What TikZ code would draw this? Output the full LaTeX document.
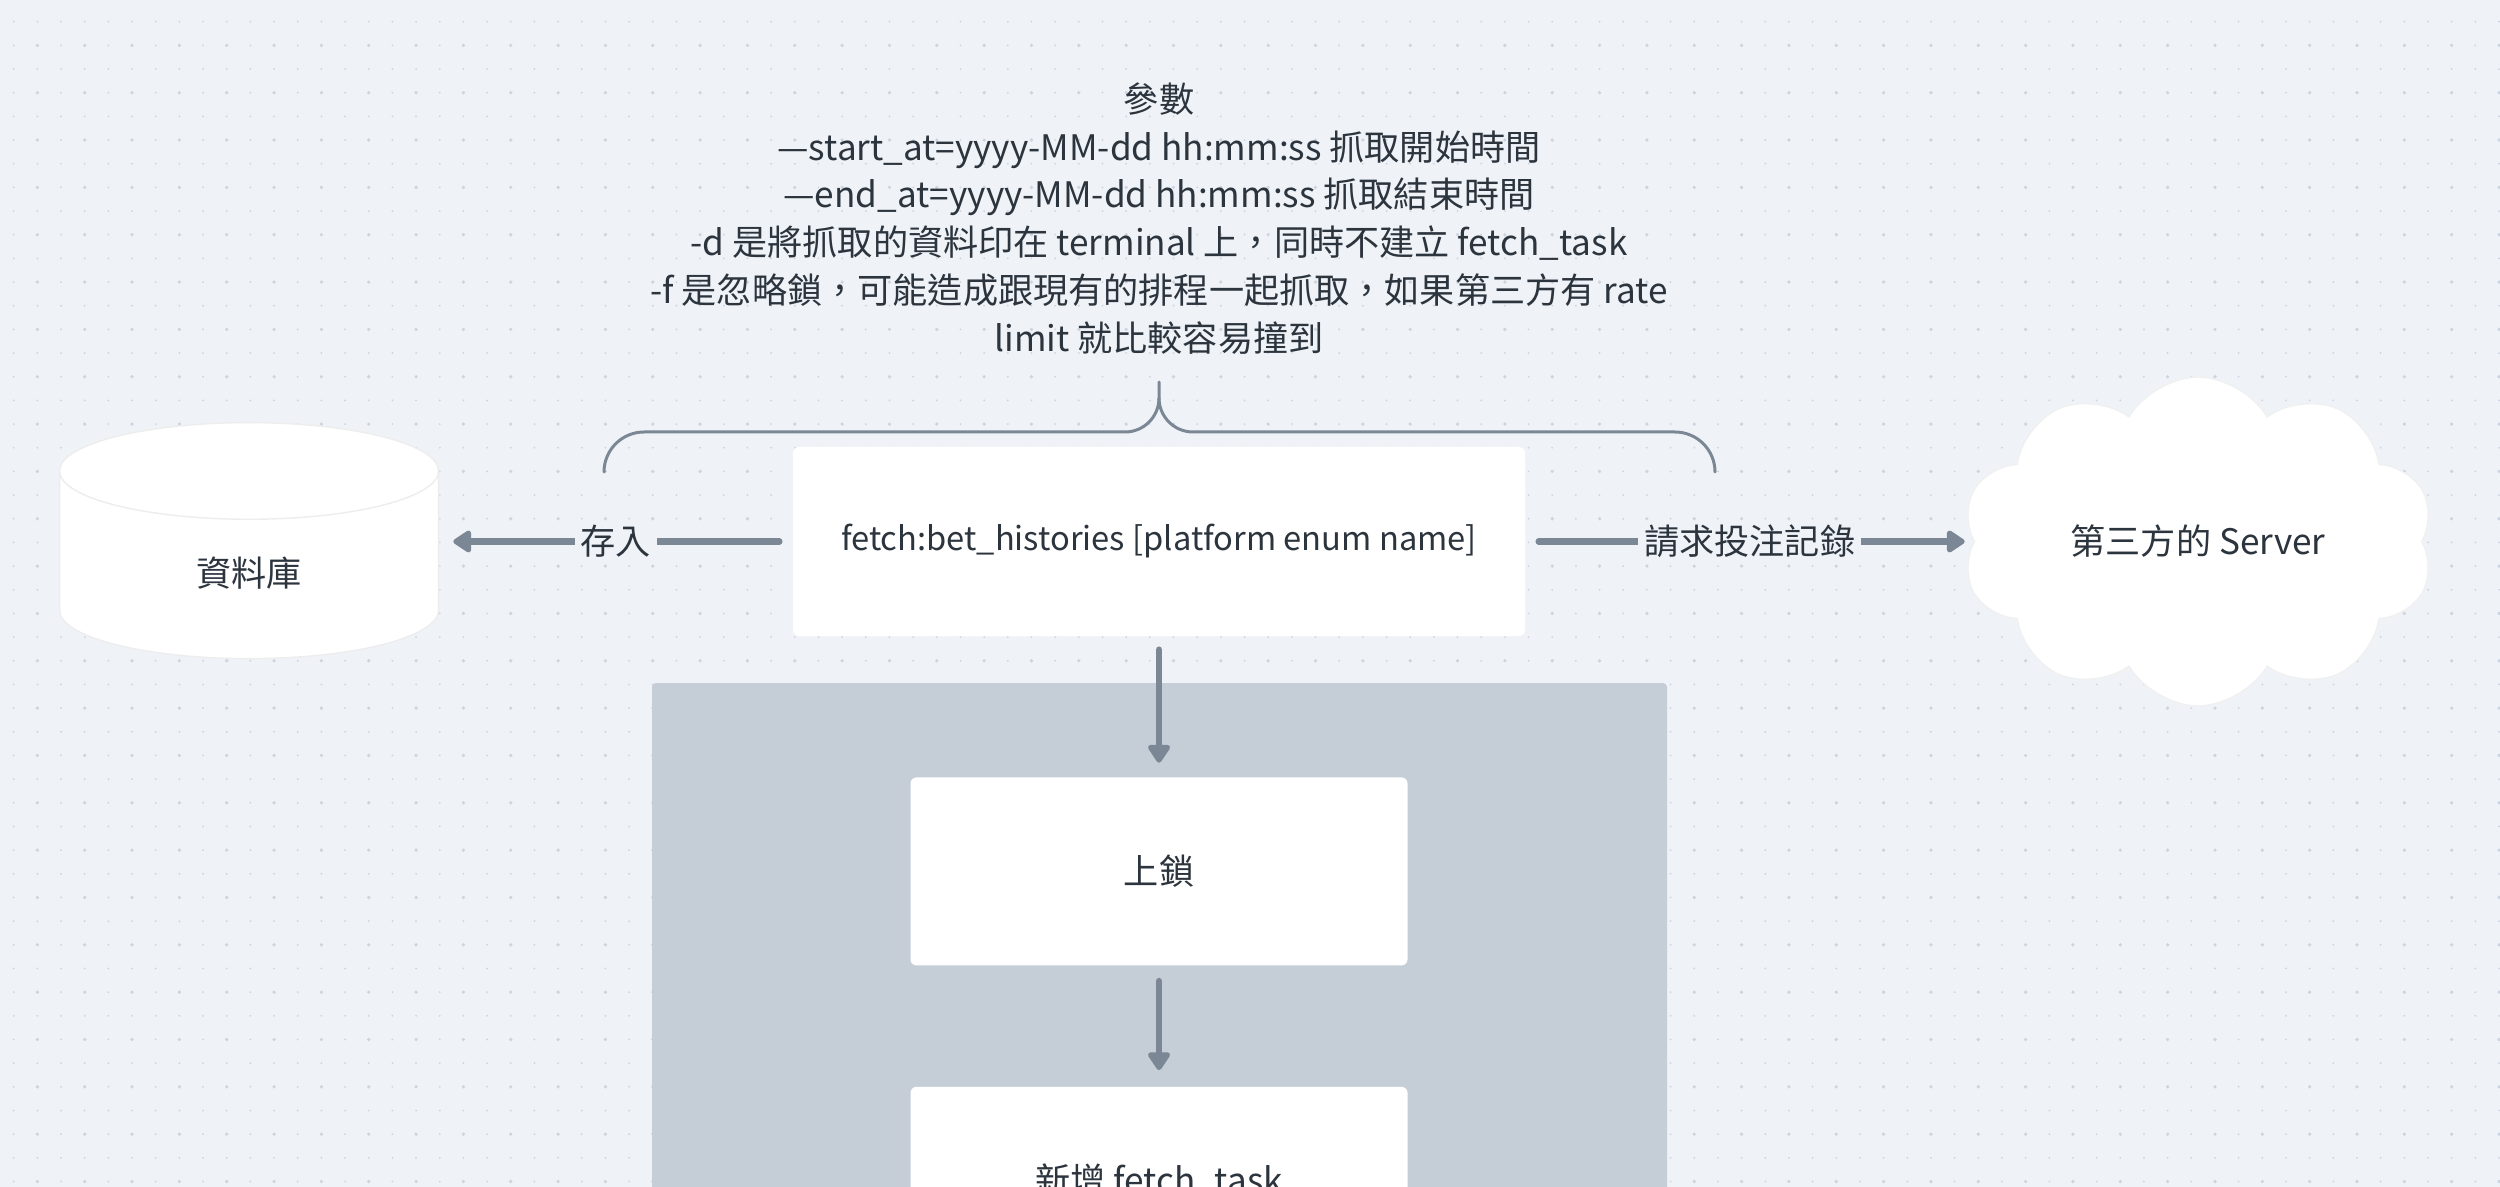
\documentclass[tikz,border=0pt]{standalone}
\usepackage{fontspec}
\setmainfont{Noto Sans CJK TC}
\usepackage{tikz}
\usetikzlibrary{shapes.geometric, shapes.symbols, arrows.meta, positioning}
\definecolor{canvas}{HTML}{EFF3F7}
\definecolor{griddot}{HTML}{CDD4DF}
\definecolor{groupfill}{HTML}{C5CED7}
\definecolor{linkgray}{HTML}{7B8794}
\definecolor{inkdark}{HTML}{2C343D}
\newcommand{\diagfont}{\fontsize{10pt}{13.6pt}\selectfont}
\tikzset{
    taskbox/.style={rectangle, rounded corners=0.06cm, minimum width=4.97cm, minimum height=1.88cm, align=center, fill=white, text=inkdark, font=\diagfont},
    database/.style={cylinder, shape border rotate=90, aspect=0.75, minimum width=3.79cm, minimum height=2.36cm, align=center, fill=white, draw=black!7, text=inkdark, font=\diagfont},
    server/.style={cloud, cloud puffs=10, cloud puff arc=120, cloud ignores aspect, minimum width=4.72cm, minimum height=3.29cm, align=center, fill=white, draw=black!6, text=inkdark, font=\diagfont},
    linklabel/.style={fill=canvas, inner xsep=0.06cm, inner ysep=0pt, text=inkdark, font=\diagfont},
    arrow/.style={line width=0.065cm, line cap=round, draw=linkgray, -{Triangle[length=0.2cm, width=0.25cm, round]}}
}

\begin{document}
\begin{tikzpicture}
    \useasboundingbox (0,0) rectangle (25,-11.87);
    \clip (0,0) rectangle (25,-11.87);
    \fill[canvas] (0,0) rectangle (25,-11.87);
    % dotted canvas
    \foreach \i in {0,...,105}
        \foreach \j in {0,...,49}
            \fill[griddot] (0.137+0.2367*\i, -0.217-0.2367*\j) circle (0.01);
    \foreach \i in {1,3,...,105}
        \foreach \j in {1,3,...,49}
            \fill[griddot] (0.137+0.2367*\i, -0.217-0.2367*\j) circle (0.018);
    % group behind the lock steps
    \fill[groupfill, rounded corners=0.04cm] (6.52,-6.83) rectangle (16.67,-12.6);

    \node (fetch) [taskbox, minimum width=7.32cm, minimum height=1.89cm, font=\fontsize{9.3pt}{13.6pt}\selectfont] at (11.59,-5.415) {fetch:bet\_histories [platform enum name]};
    \node (db) [database, left=3.53cm of fetch, yshift=-0.32cm] {資料庫};
    \node (server) [server, right=4.48cm of fetch] {第三方的 Server};
    \node (lock) [taskbox, below=1.40cm of fetch] {上鎖};
    \node (newtask) [taskbox, below=1.20cm of lock] {新增 fetch\_task};
    \node (params) [align=center, text=inkdark, font=\diagfont] at (11.59,-2.185) {參數\\—start\_at=yyyy-MM-dd hh:mm:ss 抓取開始時間\\—end\_at=yyyy-MM-dd hh:mm:ss 抓取結束時間\\-d 是將抓取的資料印在 terminal 上，同時不建立 fetch\_task\\-f 是忽略鎖，可能造成跟現有的排程一起抓取，如果第三方有 rate\\limit 就比較容易撞到};

    \draw [arrow, shorten <=0.13cm, shorten >=0.14cm] (fetch.west) -- node[linklabel] {存入} (fetch.west -| db.east);
    \draw [arrow, shorten <=0.13cm, shorten >=0.09cm] (fetch) -- node[linklabel] {請求投注記錄} (server);
    \draw [arrow, shorten <=0.13cm, shorten >=0.14cm] (fetch) -- (lock);
    \draw [arrow, shorten <=0.15cm, shorten >=0.16cm] (lock) -- (newtask);

    % brace over the command
    \draw [linkgray, line width=0.03cm, line cap=round] (6.04,-4.72) arc[start angle=180, end angle=90, radius=0.40] -- (11.25,-4.32) arc[start angle=-90, end angle=0, radius=0.34] -- (11.59,-3.82);
    \draw [linkgray, line width=0.03cm, line cap=round] (11.59,-3.98) arc[start angle=180, end angle=270, radius=0.34] -- (16.75,-4.32) arc[start angle=90, end angle=0, radius=0.40];
\end{tikzpicture}
\end{document}
